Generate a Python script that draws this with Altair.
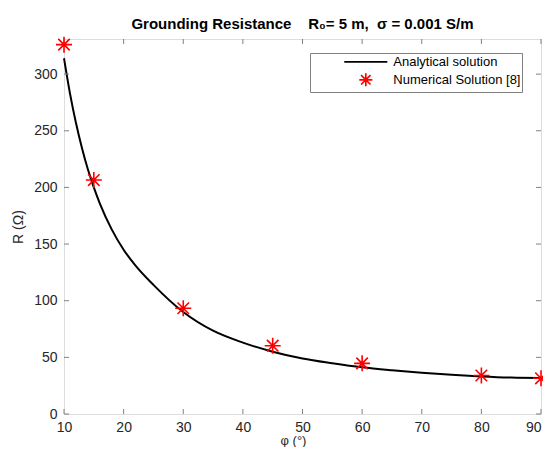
import altair as alt
import pandas as pd

# Analytical solution
curve_phi = [10, 11, 12, 13, 14, 15, 16, 18, 20, 22, 25, 30, 35, 40, 45, 50, 55, 60, 65, 70, 75, 80, 85, 90]
curve_R = [314, 283, 257, 235, 216, 200, 186, 163, 145, 131, 114, 90, 73.5, 63, 55, 49, 44.8, 41.2, 38.6, 36.4, 34.6, 33.2, 32.2, 31.8]

# Numerical solution [8]
num_phi = [10, 15, 30, 45, 60, 80, 90]
num_R = [326, 206.5, 93.3, 60.3, 44.7, 34, 31.5]

x_ticks = [10, 20, 30, 40, 50, 60, 70, 80, 90]
y_ticks = [0, 50, 100, 150, 200, 250, 300]
series_names = ["Analytical solution", "Numerical Solution [8]"]

W, H = 477, 375
FONT = "Liberation Sans"
AX = "#808080"
TXT = "#262626"

df_curve = pd.DataFrame({"phi": curve_phi, "R": curve_R})
df_num = pd.DataFrame({"phi": num_phi, "R": num_R, "series": series_names[1]})
df_xt = pd.DataFrame({"phi": x_ticks})
df_yt = pd.DataFrame({"R": y_ticks})

xscale = alt.Scale(domain=[10, 90], nice=False, zero=False)
yscale = alt.Scale(domain=[0, 331], nice=False, zero=False)

x_axis = alt.Axis(values=x_ticks, title="φ  (°)", grid=False, ticks=False, domain=False,
                  labelFlush=False, labelPadding=6, labelFont=FONT, labelFontSize=14,
                  labelColor=TXT,
                  labelAlign={"condition": {"test": "datum.value === 90", "value": "right"}, "value": "center"},
                  titleFont=FONT, titleFontSize=13, titleFontWeight="normal",
                  titleColor=TXT, titleX=229, titleY=30.5, titleBaseline="alphabetic",
                  titleAlign="center")
y_axis = alt.Axis(values=y_ticks, title="R (Ω)", grid=False, ticks=False, domain=False,
                  labelPadding=7, labelFont=FONT, labelFontSize=14, labelColor=TXT,
                  titleFont=FONT, titleFontSize=14, titleFontWeight="normal", titleColor=TXT,
                  titleX=-46, titleY=H / 2, titleAngle=270, titleBaseline="middle",
                  titleAlign="center")

line = alt.Chart(df_curve).mark_line(color="black", strokeWidth=2, interpolate="monotone").encode(
    x=alt.X("phi:Q", scale=xscale, axis=x_axis),
    y=alt.Y("R:Q", scale=yscale, axis=y_axis),
)

star_path = "M0,-1L0,1M-1,0L1,0M-0.72,-0.72L0.72,0.72M-0.72,0.72L0.72,-0.72"
line_path = "M-3.3,0L3.3,0"

leg = alt.Legend(title=None, orient="none", legendX=246, legendY=14, direction="vertical",
                 fillColor="white", strokeColor=AX, padding=1.3, symbolSize=170,
                 symbolStrokeWidth=1.7, symbolOffset=47, labelOffset=20, labelFont=FONT,
                 labelFontSize=13, labelColor="black", rowPadding=0, labelLimit=300)

pts = alt.Chart(df_num).mark_point(filled=False, size=256, strokeWidth=1.6, opacity=1).encode(
    x=alt.X("phi:Q", scale=xscale),
    y=alt.Y("R:Q", scale=yscale),
    color=alt.Color("series:N", scale=alt.Scale(domain=series_names, range=["#000000", "#ff0000"]), legend=leg),
    shape=alt.Shape("series:N", scale=alt.Scale(domain=series_names, range=[line_path, star_path]), legend=leg),
)

TL = 5
xt_bottom = alt.Chart(df_xt).mark_rule(color=AX, strokeWidth=1).encode(
    x=alt.X("phi:Q", scale=xscale), y=alt.value(H), y2=alt.value(H - TL))
xt_top = alt.Chart(df_xt).mark_rule(color=AX, strokeWidth=1).encode(
    x=alt.X("phi:Q", scale=xscale), y=alt.value(0), y2=alt.value(TL))
yt_left = alt.Chart(df_yt).mark_rule(color=AX, strokeWidth=1).encode(
    y=alt.Y("R:Q", scale=yscale), x=alt.value(0), x2=alt.value(TL))
yt_right = alt.Chart(df_yt).mark_rule(color=AX, strokeWidth=1).encode(
    y=alt.Y("R:Q", scale=yscale), x=alt.value(W), x2=alt.value(W - TL))

NB = "\u00a0"
title_text = f"Grounding Resistance{NB*4}R₀= 5 m,{NB*2}σ = 0.001 S/m"

chart = alt.layer(line, xt_bottom, xt_top, yt_left, yt_right, pts).properties(
    width=W, height=H,
    title=alt.TitleParams(text=title_text, font=FONT, fontSize=15, fontWeight="bold",
                          color="black", anchor="middle", frame="group", offset=12, dy=23,
                          baseline="alphabetic"),
    padding={"left": 56, "top": 31, "right": 2, "bottom": 33},
    autosize=alt.AutoSizeParams(type="none"),
).configure_view(stroke=AX, strokeWidth=1).configure_legend(
    labelFontSize=13, labelFont=FONT, labelColor="black"
).configure(background="white")

chart.save("out.html", embed_options={"renderer": "svg", "actions": False})
